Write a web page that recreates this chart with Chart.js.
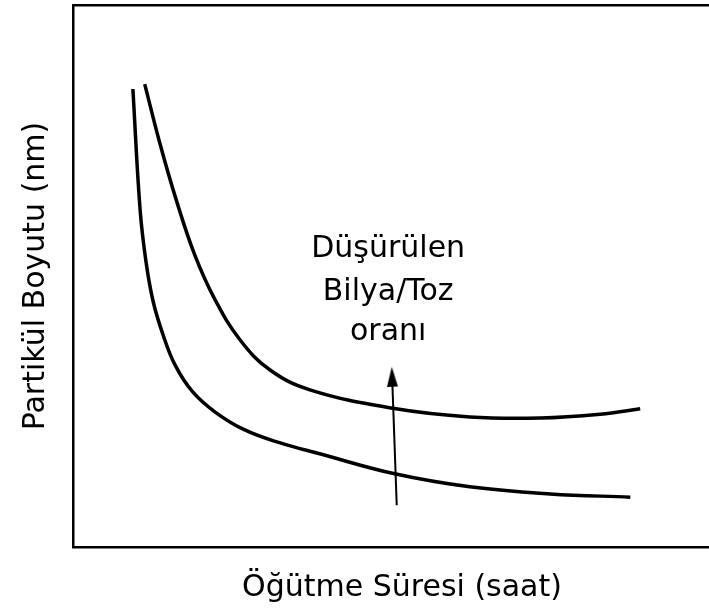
<!DOCTYPE html>
<html>
<head>
<meta charset="utf-8">
<script src="https://cdn.jsdelivr.net/npm/chart.js@4"></script>
<style>
  html, body { margin: 0; padding: 0; background: #fff; overflow: hidden; }
</style>
</head>
<body>
<canvas id="millingChart" width="731" height="612"></canvas>
<script>
// Schematic values (arbitrary units, 0-100)
const timeLow = [9.1, 10.2, 11.1, 12.2, 13.7, 15.5, 18.2, 21.6, 26.1, 31.5, 37.5, 48.9, 60.3, 72.5, 84.7];
const sizeLow = [84.5, 62.2, 52.6, 45.2, 39.1, 33.6, 28.6, 24.9, 21.6, 19.2, 17.2, 13.5, 11.1, 9.8, 9.2];
const timeHigh = [10.9, 13.2, 15.7, 18.5, 21.6, 25.4, 29.9, 36.0, 48.6, 60.3, 71.0, 80.1, 86.2];
const sizeHigh = [85.4, 74.5, 64.0, 53.9, 45.6, 38.2, 32.7, 29.0, 25.6, 24.0, 23.8, 24.5, 25.5];
const arrowTime = [49.2, 48.5];
const arrowSize = [7.7, 31.4];
const noteLines = ['Düşürülen', 'Bilya/Toz', 'oranı'];
const noteTime = 47.9;
const noteSize = [53.5, 45.6, 38.2];

const toPoints = (xs, ys) => xs.map((x, i) => ({ x: x, y: ys[i] }));

// narrow arrow head used as the point style
const head = document.createElement('canvas');
head.width = 11;
head.height = 20;
const hctx = head.getContext('2d');
hctx.fillStyle = '#000';
hctx.beginPath();
hctx.moveTo(5.5, 0);
hctx.lineTo(11, 20);
hctx.lineTo(0, 20);
hctx.closePath();
hctx.fill();

const notePlugin = {
    id: 'note',
    afterDatasetsDraw(chart) {
        const ctx = chart.ctx;
        const xs = chart.scales.x;
        const ys = chart.scales.y;
        ctx.save();
        ctx.fillStyle = '#000';
        ctx.font = '30px "DejaVu Sans"';
        ctx.textAlign = 'center';
        ctx.textBaseline = 'alphabetic';
        noteLines.forEach((t, i) => {
            ctx.fillText(t, xs.getPixelForValue(noteTime), ys.getPixelForValue(noteSize[i]));
        });
        ctx.restore();
    }
};

const ctx = document.getElementById('millingChart').getContext('2d');

const millingChart = new Chart(ctx, {
    type: 'line',
    data: {
        datasets: [
            {
                data: toPoints(timeHigh, sizeHigh),
                borderColor: '#000',
                borderWidth: 3.5,
                pointRadius: 0,
                tension: 0.4
            },
            {
                data: toPoints(timeLow, sizeLow),
                borderColor: '#000',
                borderWidth: 3.5,
                pointRadius: 0,
                tension: 0.4
            },
            {
                data: toPoints(arrowTime, arrowSize),
                borderColor: '#000',
                borderWidth: 2,
                pointRadius: [0, 8],
                pointStyle: [false, head],
                rotation: -2,
                tension: 0
            }
        ]
    },
    options: {
        responsive: false,
        animation: false,
        layout: { padding: 0, autoPadding: false },
        plugins: {
            legend: { display: false },
            tooltip: { enabled: false }
        },
        scales: {
            x: {
                type: 'linear',
                min: 0,
                max: 100,
                ticks: { display: false },
                grid: { display: false },
                border: { color: '#000', width: 2.5 },
                title: {
                    display: true,
                    text: 'Öğütme Süresi (saat)',
                    color: '#000',
                    font: { family: 'DejaVu Sans', size: 30 },
                    padding: { top: 0, bottom: 6 }
                },
                afterFit: (scale) => { scale.height = 65; }
            },
            xTop: {
                type: 'linear',
                position: 'top',
                min: 0,
                max: 100,
                ticks: { display: false },
                grid: { display: false },
                border: { color: '#000', width: 2.5 },
                afterFit: (scale) => { scale.height = 5; }
            },
            y: {
                type: 'linear',
                min: 0,
                max: 100,
                ticks: { display: false },
                grid: { display: false },
                border: { color: '#000', width: 2.5 },
                title: {
                    display: true,
                    text: 'Partikül Boyutu (nm)',
                    color: '#000',
                    font: { family: 'DejaVu Sans', size: 30 },
                    padding: { top: 18, bottom: 0 }
                },
                afterFit: (scale) => { scale.width = 73; }
            }
        }
    },
    plugins: [notePlugin]
});
</script>
</body>
</html>
